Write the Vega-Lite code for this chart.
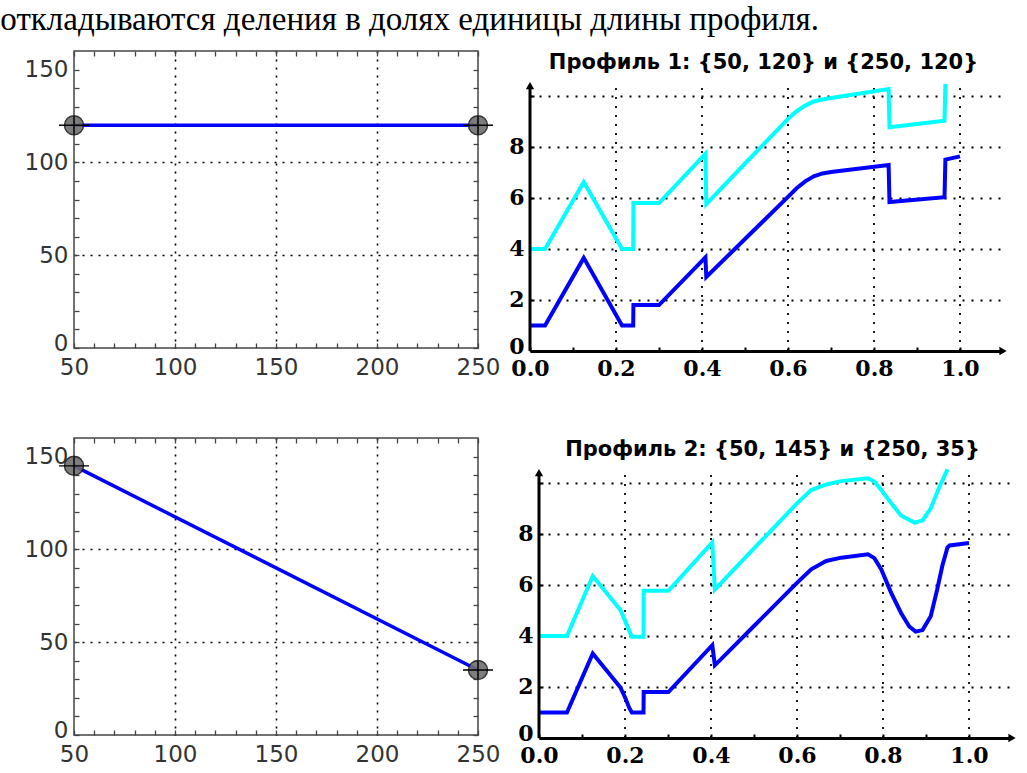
{
  "$schema": "https://vega.github.io/schema/vega-lite/v6.json",
  "background": "white",
  "padding": {"left": 0, "top": 3, "right": 4, "bottom": 4},
  "title": {"text": "откладываются деления в долях единицы длины профиля.", "font": "Liberation Serif", "fontSize": 33, "fontWeight": "normal", "color": "black", "anchor": "start", "dx": -23, "offset": 13},
  "datasets": {
    "line1": [{"x": 50, "y": 120}, {"x": 250, "y": 120}],
    "line2": [{"x": 50, "y": 145}, {"x": 250, "y": 35}],
    "prof1": [
      {"x": 0, "y": 1, "s": "нижняя"}, {"x": 0.035, "y": 1, "s": "нижняя"}, {"x": 0.125, "y": 3.65, "s": "нижняя"}, {"x": 0.214, "y": 1, "s": "нижняя"}, {"x": 0.24, "y": 1, "s": "нижняя"}, {"x": 0.2405, "y": 1.8, "s": "нижняя"}, {"x": 0.3, "y": 1.8, "s": "нижняя"}, {"x": 0.408, "y": 3.67, "s": "нижняя"}, {"x": 0.41, "y": 2.9, "s": "нижняя"}, {"x": 0.5, "y": 4.39, "s": "нижняя"}, {"x": 0.6, "y": 6.04, "s": "нижняя"}, {"x": 0.62, "y": 6.38, "s": "нижняя"}, {"x": 0.64, "y": 6.65, "s": "нижняя"}, {"x": 0.66, "y": 6.85, "s": "нижняя"}, {"x": 0.68, "y": 6.96, "s": "нижняя"}, {"x": 0.7, "y": 7.02, "s": "нижняя"}, {"x": 0.834, "y": 7.29, "s": "нижняя"}, {"x": 0.836, "y": 5.84, "s": "нижняя"}, {"x": 0.964, "y": 6.03, "s": "нижняя"}, {"x": 0.966, "y": 7.5, "s": "нижняя"}, {"x": 1.0, "y": 7.63, "s": "нижняя"},
      {"x": 0, "y": 4, "s": "верхняя"}, {"x": 0.035, "y": 4, "s": "верхняя"}, {"x": 0.125, "y": 6.62, "s": "верхняя"}, {"x": 0.214, "y": 4, "s": "верхняя"}, {"x": 0.24, "y": 4, "s": "верхняя"}, {"x": 0.2405, "y": 5.8, "s": "верхняя"}, {"x": 0.3, "y": 5.8, "s": "верхняя"}, {"x": 0.408, "y": 7.73, "s": "верхняя"}, {"x": 0.41, "y": 5.76, "s": "верхняя"}, {"x": 0.5, "y": 7.35, "s": "верхняя"}, {"x": 0.6, "y": 9.1, "s": "верхняя"}, {"x": 0.62, "y": 9.4, "s": "верхняя"}, {"x": 0.64, "y": 9.62, "s": "верхняя"}, {"x": 0.66, "y": 9.78, "s": "верхняя"}, {"x": 0.68, "y": 9.86, "s": "верхняя"}, {"x": 0.7, "y": 9.92, "s": "верхняя"}, {"x": 0.834, "y": 10.27, "s": "верхняя"}, {"x": 0.836, "y": 8.77, "s": "верхняя"}, {"x": 0.964, "y": 9.03, "s": "верхняя"}, {"x": 0.966, "y": 10.47, "s": "верхняя"}
    ],
    "prof2": [
      {"x": 0, "y": 1, "s": "нижняя"}, {"x": 0.065, "y": 1, "s": "нижняя"}, {"x": 0.125, "y": 3.31, "s": "нижняя"}, {"x": 0.189, "y": 1.99, "s": "нижняя"}, {"x": 0.2, "y": 1.6, "s": "нижняя"}, {"x": 0.21, "y": 1.18, "s": "нижняя"}, {"x": 0.216, "y": 1.0, "s": "нижняя"}, {"x": 0.243, "y": 1.0, "s": "нижняя"}, {"x": 0.2435, "y": 1.8, "s": "нижняя"}, {"x": 0.301, "y": 1.8, "s": "нижняя"}, {"x": 0.403, "y": 3.64, "s": "нижняя"}, {"x": 0.409, "y": 2.85, "s": "нижняя"}, {"x": 0.5, "y": 4.39, "s": "нижняя"}, {"x": 0.6, "y": 6.08, "s": "нижняя"}, {"x": 0.633, "y": 6.61, "s": "нижняя"}, {"x": 0.668, "y": 6.94, "s": "нижняя"}, {"x": 0.703, "y": 7.07, "s": "нижняя"}, {"x": 0.765, "y": 7.2, "s": "нижняя"}, {"x": 0.78, "y": 7.05, "s": "нижняя"}, {"x": 0.796, "y": 6.61, "s": "нижняя"}, {"x": 0.819, "y": 5.69, "s": "нижняя"}, {"x": 0.842, "y": 4.9, "s": "нижняя"}, {"x": 0.861, "y": 4.37, "s": "нижняя"}, {"x": 0.876, "y": 4.17, "s": "нижняя"}, {"x": 0.892, "y": 4.23, "s": "нижняя"}, {"x": 0.911, "y": 4.77, "s": "нижняя"}, {"x": 0.926, "y": 5.82, "s": "нижняя"}, {"x": 0.938, "y": 6.75, "s": "нижняя"}, {"x": 0.95, "y": 7.47, "s": "нижняя"}, {"x": 0.955, "y": 7.55, "s": "нижняя"}, {"x": 1.0, "y": 7.64, "s": "нижняя"},
      {"x": 0, "y": 4, "s": "верхняя"}, {"x": 0.065, "y": 4, "s": "верхняя"}, {"x": 0.125, "y": 6.35, "s": "верхняя"}, {"x": 0.189, "y": 5.03, "s": "верхняя"}, {"x": 0.2, "y": 4.6, "s": "верхняя"}, {"x": 0.21, "y": 4.2, "s": "верхняя"}, {"x": 0.216, "y": 3.97, "s": "верхняя"}, {"x": 0.243, "y": 3.97, "s": "верхняя"}, {"x": 0.2435, "y": 5.77, "s": "верхняя"}, {"x": 0.301, "y": 5.77, "s": "верхняя"}, {"x": 0.403, "y": 7.67, "s": "верхняя"}, {"x": 0.409, "y": 5.82, "s": "верхняя"}, {"x": 0.5, "y": 7.43, "s": "верхняя"}, {"x": 0.6, "y": 9.2, "s": "верхняя"}, {"x": 0.633, "y": 9.72, "s": "верхняя"}, {"x": 0.668, "y": 9.94, "s": "верхняя"}, {"x": 0.703, "y": 10.07, "s": "верхняя"}, {"x": 0.765, "y": 10.18, "s": "верхняя"}, {"x": 0.78, "y": 10.05, "s": "верхняя"}, {"x": 0.796, "y": 9.72, "s": "верхняя"}, {"x": 0.823, "y": 9.12, "s": "верхняя"}, {"x": 0.842, "y": 8.72, "s": "верхняя"}, {"x": 0.873, "y": 8.44, "s": "верхняя"}, {"x": 0.892, "y": 8.53, "s": "верхняя"}, {"x": 0.911, "y": 9.0, "s": "верхняя"}, {"x": 0.93, "y": 9.8, "s": "верхняя"}, {"x": 0.95, "y": 10.53, "s": "верхняя"}
    ]
  },
  "vconcat": [
    {
      "spacing": 7,
      "hconcat": [
        {
          "width": 404, "height": 297,
          "view": {"stroke": "#444", "strokeWidth": 1.5},
          "data": {"name": "line1"},
          "layer": [
            {"mark": {"type": "line", "color": "#0000ff", "strokeWidth": 3.5},
             "encoding": {
               "x": {"field": "x", "type": "quantitative", "scale": {"domain": [50, 250], "nice": false, "zero": false},
                     "axis": {"orient": "bottom", "values": [50,60,70,80,90,100,110,120,130,140,150,160,170,180,190,200,210,220,230,240,250], "labelExpr": "datum.value % 50 === 0 ? datum.label : ''", "labelFont": "DejaVu Sans", "labelFontSize": 23, "labelColor": "#333", "labelPadding": 13, "labelOverlap": false, "labelFlush": false, "labelBound": false, "tickSize": -5, "tickColor": "#444", "tickWidth": 1.3, "domain": false, "grid": true, "gridColor": "black", "gridDash": [2, 6], "gridWidth": 1.6, "gridOpacity": {"condition": {"test": "datum.value === 100 || datum.value === 150 || datum.value === 200", "value": 1}, "value": 0}, "title": null}},
               "y": {"field": "y", "type": "quantitative", "scale": {"domain": [0, 160], "nice": false, "zero": false},
                     "axis": {"orient": "left", "values": [0,10,20,30,40,50,60,70,80,90,100,110,120,130,140,150], "labelExpr": "datum.value % 50 === 0 ? datum.label : ''", "labelFont": "DejaVu Sans", "labelFontSize": 23, "labelColor": "#333", "labelPadding": 11, "labelOffset": {"condition": {"test": "datum.value === 0", "value": -5}, "value": 0}, "labelOverlap": false, "labelFlush": false, "labelBound": false, "tickSize": -5, "tickColor": "#444", "tickWidth": 1.3, "domain": false, "grid": true, "gridColor": "black", "gridDash": [2, 6], "gridWidth": 1.6, "gridOpacity": {"condition": {"test": "datum.value === 50 || datum.value === 100", "value": 1}, "value": 0}, "title": null}}
             }},
            {"mark": {"type": "point", "shape": "circle", "filled": true, "size": 360, "color": "#6f6f6f", "opacity": 0.9, "stroke": "#222", "strokeWidth": 1.5},
             "encoding": {"x": {"field": "x", "type": "quantitative", "axis": null}, "y": {"field": "y", "type": "quantitative", "axis": null}}},
            {"mark": {"type": "point", "shape": "M-1,0H1M0,-0.6V0.6", "filled": false, "size": 900, "color": "black", "strokeWidth": 1.4, "opacity": 1},
             "encoding": {
               "x": {"field": "x", "type": "quantitative", "axis": {"orient": "top", "values": [50,60,70,80,90,100,110,120,130,140,150,160,170,180,190,200,210,220,230,240,250], "labels": false, "tickSize": -5, "tickColor": "#444", "tickWidth": 1.3, "domain": false, "grid": false, "title": null}},
               "y": {"field": "y", "type": "quantitative", "axis": {"orient": "right", "values": [0,10,20,30,40,50,60,70,80,90,100,110,120,130,140,150], "labels": false, "tickSize": -5, "tickColor": "#444", "tickWidth": 1.3, "domain": false, "grid": false, "title": null}}
             }}
          ],
          "resolve": {"axis": {"x": "independent", "y": "independent"}}
        },
        {
          "width": 473, "height": 300,
          "view": {"stroke": null},
          "title": {"text": "Профиль 1: {50, 120} и {250, 120}", "font": "DejaVu Sans", "fontSize": 21, "fontWeight": "bold", "color": "black", "offset": -22, "dx": -3},
          "layer": [
            {"data": {"values": [{}]}, "mark": {"type": "rule", "color": "black", "strokeWidth": 1.8, "strokeDash": [2, 7]}, "encoding": {"x": {"datum": 0.2, "type": "quantitative"}, "y": {"datum": 0, "type": "quantitative"}, "y2": {"datum": 10.4}}},
            {"data": {"values": [{}]}, "mark": {"type": "rule", "color": "black", "strokeWidth": 1.8, "strokeDash": [2, 7]}, "encoding": {"x": {"datum": 0.4, "type": "quantitative"}, "y": {"datum": 0, "type": "quantitative"}, "y2": {"datum": 10.4}}},
            {"data": {"values": [{}]}, "mark": {"type": "rule", "color": "black", "strokeWidth": 1.8, "strokeDash": [2, 7]}, "encoding": {"x": {"datum": 0.6, "type": "quantitative"}, "y": {"datum": 0, "type": "quantitative"}, "y2": {"datum": 10.4}}},
            {"data": {"values": [{}]}, "mark": {"type": "rule", "color": "black", "strokeWidth": 1.8, "strokeDash": [2, 7]}, "encoding": {"x": {"datum": 0.8, "type": "quantitative"}, "y": {"datum": 0, "type": "quantitative"}, "y2": {"datum": 10.4}}},
            {"data": {"values": [{}]}, "mark": {"type": "rule", "color": "black", "strokeWidth": 1.8, "strokeDash": [2, 7]}, "encoding": {"x": {"datum": 1.0, "type": "quantitative"}, "y": {"datum": 0, "type": "quantitative"}, "y2": {"datum": 10.4}}},
            {"data": {"name": "prof1"},
             "mark": {"type": "line", "strokeWidth": 4, "clip": true},
             "encoding": {
               "x": {"field": "x", "type": "quantitative", "scale": {"domain": [0, 1.1], "nice": false, "zero": false},
                     "axis": {"orient": "bottom", "values": [0,0.05,0.1,0.15,0.2,0.25,0.3,0.35,0.4,0.45,0.5,0.55,0.6,0.65,0.7,0.75,0.8,0.85,0.9,0.95,1,1.05], "labelExpr": "abs(datum.value*5 - round(datum.value*5)) < 0.001 ? format(datum.value, '.1f') : ''", "labelFont": "DejaVu Serif", "labelFontWeight": "bold", "labelFontSize": 22, "labelColor": "black", "labelPadding": 11, "labelOverlap": false, "labelFlush": false, "labelBound": false, "tickSize": -4, "tickColor": "black", "tickWidth": 2, "domain": true, "domainColor": "black", "domainWidth": 3, "grid": false, "title": null}},
               "y": {"field": "y", "type": "quantitative", "scale": {"domain": [0, 11.76], "nice": false, "zero": false},
                     "axis": {"orient": "left", "values": [0,0.5,1,1.5,2,2.5,3,3.5,4,4.5,5,5.5,6,6.5,7,7.5,8,8.5,9,9.5,10], "labelExpr": "datum.value % 2 === 0 && datum.value < 9 ? datum.label : ''", "labelFont": "DejaVu Serif", "labelFontWeight": "bold", "labelFontSize": 22, "labelColor": "black", "labelPadding": 10, "labelOffset": {"condition": {"test": "datum.value === 0", "value": -5}, "value": 0}, "labelOverlap": false, "labelFlush": false, "labelBound": false, "tickSize": -4, "tickColor": "black", "tickWidth": 2, "domain": false, "grid": true, "gridColor": "black", "gridDash": [2, 7], "gridWidth": 1.8, "gridOpacity": {"condition": {"test": "datum.value % 2 === 0 && datum.value > 0", "value": 1}, "value": 0}, "title": null}},
               "color": {"field": "s", "type": "nominal", "scale": {"domain": ["нижняя", "верхняя"], "range": ["#0000ff", "#00ffff"]}, "legend": null}
             }},
            {"data": {"values": [{}]}, "mark": {"type": "rule", "color": "black", "strokeWidth": 3}, "encoding": {"x": {"datum": 0, "type": "quantitative"}, "y": {"datum": 0, "type": "quantitative"}, "y2": {"datum": 10.4}}},
            {"data": {"values": [{}]},
             "mark": {"type": "point", "shape": "triangle-right", "filled": true, "color": "black", "size": 70, "opacity": 1},
             "encoding": {"x": {"datum": 1.1, "type": "quantitative"}, "y": {"datum": 0, "type": "quantitative"}}},
            {"data": {"values": [{}]},
             "mark": {"type": "point", "shape": "triangle-up", "filled": true, "color": "black", "size": 70, "opacity": 1},
             "encoding": {"x": {"datum": 0, "type": "quantitative"}, "y": {"datum": 10.4, "type": "quantitative"}}}
          ]
        }
      ]
    },
    {
      "spacing": 16,
      "hconcat": [
        {
          "width": 404, "height": 297,
          "view": {"stroke": "#444", "strokeWidth": 1.5},
          "data": {"name": "line2"},
          "layer": [
            {"mark": {"type": "line", "color": "#0000ff", "strokeWidth": 3.5},
             "encoding": {
               "x": {"field": "x", "type": "quantitative", "scale": {"domain": [50, 250], "nice": false, "zero": false},
                     "axis": {"orient": "bottom", "values": [50,60,70,80,90,100,110,120,130,140,150,160,170,180,190,200,210,220,230,240,250], "labelExpr": "datum.value % 50 === 0 ? datum.label : ''", "labelFont": "DejaVu Sans", "labelFontSize": 23, "labelColor": "#333", "labelPadding": 13, "labelOverlap": false, "labelFlush": false, "labelBound": false, "tickSize": -5, "tickColor": "#444", "tickWidth": 1.3, "domain": false, "grid": true, "gridColor": "black", "gridDash": [2, 6], "gridWidth": 1.6, "gridOpacity": {"condition": {"test": "datum.value === 100 || datum.value === 150 || datum.value === 200", "value": 1}, "value": 0}, "title": null}},
               "y": {"field": "y", "type": "quantitative", "scale": {"domain": [0, 160], "nice": false, "zero": false},
                     "axis": {"orient": "left", "values": [0,10,20,30,40,50,60,70,80,90,100,110,120,130,140,150], "labelExpr": "datum.value % 50 === 0 ? datum.label : ''", "labelFont": "DejaVu Sans", "labelFontSize": 23, "labelColor": "#333", "labelPadding": 11, "labelOffset": {"condition": {"test": "datum.value === 0", "value": -5}, "value": 0}, "labelOverlap": false, "labelFlush": false, "labelBound": false, "tickSize": -5, "tickColor": "#444", "tickWidth": 1.3, "domain": false, "grid": true, "gridColor": "black", "gridDash": [2, 6], "gridWidth": 1.6, "gridOpacity": {"condition": {"test": "datum.value === 50 || datum.value === 100", "value": 1}, "value": 0}, "title": null}}
             }},
            {"mark": {"type": "point", "shape": "circle", "filled": true, "size": 360, "color": "#6f6f6f", "opacity": 0.9, "stroke": "#222", "strokeWidth": 1.5},
             "encoding": {"x": {"field": "x", "type": "quantitative", "axis": null}, "y": {"field": "y", "type": "quantitative", "axis": null}}},
            {"mark": {"type": "point", "shape": "M-1,0H1M0,-0.6V0.6", "filled": false, "size": 900, "color": "black", "strokeWidth": 1.4, "opacity": 1},
             "encoding": {
               "x": {"field": "x", "type": "quantitative", "axis": {"orient": "top", "values": [50,60,70,80,90,100,110,120,130,140,150,160,170,180,190,200,210,220,230,240,250], "labels": false, "tickSize": -5, "tickColor": "#444", "tickWidth": 1.3, "domain": false, "grid": false, "title": null}},
               "y": {"field": "y", "type": "quantitative", "axis": {"orient": "right", "values": [0,10,20,30,40,50,60,70,80,90,100,110,120,130,140,150], "labels": false, "tickSize": -5, "tickColor": "#444", "tickWidth": 1.3, "domain": false, "grid": false, "title": null}}
             }}
          ],
          "resolve": {"axis": {"x": "independent", "y": "independent"}}
        },
        {
          "width": 473, "height": 300,
          "view": {"stroke": null},
          "title": {"text": "Профиль 2: {50, 145} и {250, 35}", "font": "DejaVu Sans", "fontSize": 21, "fontWeight": "bold", "color": "black", "offset": -22, "dx": -3},
          "layer": [
            {"data": {"values": [{}]}, "mark": {"type": "rule", "color": "black", "strokeWidth": 1.8, "strokeDash": [2, 7]}, "encoding": {"x": {"datum": 0.2, "type": "quantitative"}, "y": {"datum": 0, "type": "quantitative"}, "y2": {"datum": 10.4}}},
            {"data": {"values": [{}]}, "mark": {"type": "rule", "color": "black", "strokeWidth": 1.8, "strokeDash": [2, 7]}, "encoding": {"x": {"datum": 0.4, "type": "quantitative"}, "y": {"datum": 0, "type": "quantitative"}, "y2": {"datum": 10.4}}},
            {"data": {"values": [{}]}, "mark": {"type": "rule", "color": "black", "strokeWidth": 1.8, "strokeDash": [2, 7]}, "encoding": {"x": {"datum": 0.6, "type": "quantitative"}, "y": {"datum": 0, "type": "quantitative"}, "y2": {"datum": 10.4}}},
            {"data": {"values": [{}]}, "mark": {"type": "rule", "color": "black", "strokeWidth": 1.8, "strokeDash": [2, 7]}, "encoding": {"x": {"datum": 0.8, "type": "quantitative"}, "y": {"datum": 0, "type": "quantitative"}, "y2": {"datum": 10.4}}},
            {"data": {"values": [{}]}, "mark": {"type": "rule", "color": "black", "strokeWidth": 1.8, "strokeDash": [2, 7]}, "encoding": {"x": {"datum": 1.0, "type": "quantitative"}, "y": {"datum": 0, "type": "quantitative"}, "y2": {"datum": 10.4}}},
            {"data": {"name": "prof2"},
             "mark": {"type": "line", "strokeWidth": 4, "clip": true},
             "encoding": {
               "x": {"field": "x", "type": "quantitative", "scale": {"domain": [0, 1.1], "nice": false, "zero": false},
                     "axis": {"orient": "bottom", "values": [0,0.05,0.1,0.15,0.2,0.25,0.3,0.35,0.4,0.45,0.5,0.55,0.6,0.65,0.7,0.75,0.8,0.85,0.9,0.95,1,1.05], "labelExpr": "abs(datum.value*5 - round(datum.value*5)) < 0.001 ? format(datum.value, '.1f') : ''", "labelFont": "DejaVu Serif", "labelFontWeight": "bold", "labelFontSize": 22, "labelColor": "black", "labelPadding": 11, "labelOverlap": false, "labelFlush": false, "labelBound": false, "tickSize": -4, "tickColor": "black", "tickWidth": 2, "domain": true, "domainColor": "black", "domainWidth": 3, "grid": false, "title": null}},
               "y": {"field": "y", "type": "quantitative", "scale": {"domain": [0, 11.76], "nice": false, "zero": false},
                     "axis": {"orient": "left", "values": [0,0.5,1,1.5,2,2.5,3,3.5,4,4.5,5,5.5,6,6.5,7,7.5,8,8.5,9,9.5,10], "labelExpr": "datum.value % 2 === 0 && datum.value < 9 ? datum.label : ''", "labelFont": "DejaVu Serif", "labelFontWeight": "bold", "labelFontSize": 22, "labelColor": "black", "labelPadding": 10, "labelOffset": {"condition": {"test": "datum.value === 0", "value": -5}, "value": 0}, "labelOverlap": false, "labelFlush": false, "labelBound": false, "tickSize": -4, "tickColor": "black", "tickWidth": 2, "domain": false, "grid": true, "gridColor": "black", "gridDash": [2, 7], "gridWidth": 1.8, "gridOpacity": {"condition": {"test": "datum.value % 2 === 0 && datum.value > 0", "value": 1}, "value": 0}, "title": null}},
               "color": {"field": "s", "type": "nominal", "scale": {"domain": ["нижняя", "верхняя"], "range": ["#0000ff", "#00ffff"]}, "legend": null}
             }},
            {"data": {"values": [{}]}, "mark": {"type": "rule", "color": "black", "strokeWidth": 3}, "encoding": {"x": {"datum": 0, "type": "quantitative"}, "y": {"datum": 0, "type": "quantitative"}, "y2": {"datum": 10.4}}},
            {"data": {"values": [{}]},
             "mark": {"type": "point", "shape": "triangle-right", "filled": true, "color": "black", "size": 70, "opacity": 1},
             "encoding": {"x": {"datum": 1.1, "type": "quantitative"}, "y": {"datum": 0, "type": "quantitative"}}},
            {"data": {"values": [{}]},
             "mark": {"type": "point", "shape": "triangle-up", "filled": true, "color": "black", "size": 70, "opacity": 1},
             "encoding": {"x": {"datum": 0, "type": "quantitative"}, "y": {"datum": 10.4, "type": "quantitative"}}}
          ]
        }
      ]
    }
  ],
  "spacing": 56,
  "config": {"view": {"stroke": null}}
}
